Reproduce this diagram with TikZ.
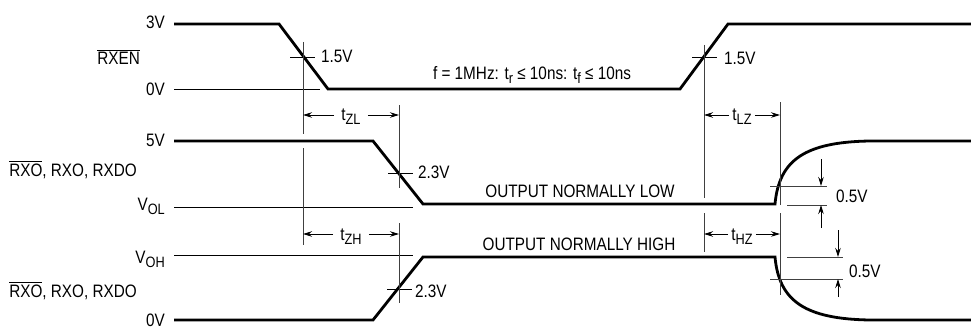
\documentclass[tikz,border=0pt]{standalone}
\usepackage{fontspec}
\setmainfont{Liberation Sans}[FakeStretch=0.85]
\usetikzlibrary{arrows.meta}
\newcommand\sbs[1]{\raisebox{-4pt}{\fontsize{15}{15}\selectfont #1}}
\newcommand\ovl[1]{\vbox{\hrule height 0.9pt\kern1.6pt\hbox{#1}}}
\begin{document}
\begin{tikzpicture}[x=1pt,y=-1pt,
  every node/.style={font=\fontsize{18}{20}\selectfont, inner sep=0pt},
  sig/.style={line width=2.8pt, line join=miter},
  refl/.style={line width=0.9pt},
  vline/.style={line width=0.9pt, black!75},
  arr/.style={line width=0.9pt, -{Stealth[length=9pt,width=5.5pt]}},
]
\useasboundingbox (0,0) rectangle (971,329);
% level labels
\node[anchor=base east] (l3v) at (165,29) {3V};
\node[anchor=base east] (lrxen) at (140,65) {\ovl{RXEN}};
\node[anchor=base east] (l0va) at (165,95) {0V};
\node[anchor=base east] (l5v) at (165,146) {5V};
\node[anchor=base east] (lrxa) at (137,176) {\ovl{RXO}, RXO, RXDO};
\node[anchor=base east] (lvol) at (165,210) {V\sbs{OL}};
\node[anchor=base east] (lvoh) at (165,263) {V\sbs{OH}};
\node[anchor=base east] (lrxb) at (137,297) {\ovl{RXO}, RXO, RXDO};
\node[anchor=base east] (l0vb) at (165,326) {0V};
% thin reference levels
\draw[refl] (174,89) -- (320,89);
\draw[refl] (174,207) -- (413,207);
\draw[refl] (174,255) -- (413,255);
% signals
\draw[sig] (174,24) -- (279,24) -- (328,89) -- (680,89) -- (728,24) -- (971,24);
\draw[sig] (174,141) -- (373,141) -- (423,204) -- (775,204)
  .. controls (779,160) and (805,142) .. (870,141) -- (971,141);
\draw[sig] (174,320) -- (373,320) -- (423,257) -- (775,257)
  .. controls (779,301) and (805,319) .. (870,320) -- (971,320);
% crossing ticks
\draw[refl] (290,57) -- (315,57);
\draw[refl] (692,57) -- (717,57);
\draw[refl] (388,173) -- (413,173);
\draw[refl] (387,289) -- (412,289);
\node[anchor=base west] (v15a) at (321,63) {1.5V};
\node[anchor=base west] (v15b) at (724,64) {1.5V};
\node[anchor=base west] (v23a) at (418,178) {2.3V};
\node[anchor=base west] (v23b) at (415,297) {2.3V};
\node[anchor=base] (freq) at (532,79) {f = 1MHz: t\sbs{r} ≤ 10ns: t\sbs{f} ≤ 10ns};
\node[anchor=base] (onl) at (580,197) {OUTPUT NORMALLY LOW};
\node[anchor=base] (onh) at (579,250) {OUTPUT NORMALLY HIGH};
% vertical timing markers
\coordinate (a1) at (303,42); \coordinate (a2) at (303,134);
\coordinate (a3) at (303,148); \coordinate (a4) at (303,245);
\coordinate (b1) at (399,105); \coordinate (b2) at (399,188);
\coordinate (b3) at (399,223); \coordinate (b4) at (399,303);
\coordinate (c1) at (704,45); \coordinate (c2) at (704,198);
\coordinate (c3) at (704,213); \coordinate (c4) at (704,252);
\coordinate (d1) at (780,102); \coordinate (d2) at (780,205);
\coordinate (d3) at (780,213); \coordinate (d4) at (780,295);
\draw[vline] (a1) -- (a2); \draw[vline] (a3) -- (a4);
\draw[vline] (b1) -- (b2); \draw[vline] (b3) -- (b4);
\draw[vline] (c1) -- (c2); \draw[vline] (c3) -- (c4);
\draw[vline] (d1) -- (d2); \draw[vline] (d3) -- (d4);
% timing labels and arrows
\node[anchor=base, inner xsep=4pt] (tzl) at (351,120) {t\sbs{ZL}};
\node[anchor=base, inner xsep=3pt] (tlz) at (742,120) {t\sbs{LZ}};
\node[anchor=base, inner xsep=4pt] (tzh) at (351,240) {t\sbs{ZH}};
\node[anchor=base, inner xsep=3pt] (thz) at (742,240) {t\sbs{HZ}};
\coordinate (zl1) at (303,115); \coordinate (zl2) at (399,115);
\coordinate (lz1) at (704,115); \coordinate (lz2) at (780,115);
\coordinate (zh1) at (303,234); \coordinate (zh2) at (399,234);
\coordinate (hz1) at (704,234); \coordinate (hz2) at (780,234);
\draw[arr] (tzl.west |- zl1) ++(-3,0) -- (zl1);
\draw[arr] (tzl.east |- zl2) ++(3,0) -- (zl2);
\draw[arr] (tlz.west |- lz1) -- (lz1);
\draw[arr] (tlz.east |- lz2) -- (lz2);
\draw[arr] (tzh.west |- zh1) ++(-3,0) -- (zh1);
\draw[arr] (tzh.east |- zh2) ++(3,0) -- (zh2);
\draw[arr] (thz.west |- hz1) -- (hz1);
\draw[arr] (thz.east |- hz2) -- (hz2);
% 0.5V markers
\draw[vline] (770,186) -- (827,186);
\draw[vline] (787,205) -- (827,205);
\draw[vline] (787,257) -- (843,257);
\draw[vline] (770,279) -- (843,279);
\coordinate (p1) at (821,159); \coordinate (p2) at (821,186);
\coordinate (p3) at (821,228); \coordinate (p4) at (821,205);
\coordinate (q1) at (838,230); \coordinate (q2) at (838,257);
\coordinate (q3) at (838,297); \coordinate (q4) at (838,279);
\draw[arr] (p1) -- (p2); \draw[arr] (p3) -- (p4);
\draw[arr] (q1) -- (q2); \draw[arr] (q3) -- (q4);
\node[anchor=base west] (h05a) at (836,202) {0.5V};
\node[anchor=base west] (h05b) at (849,277) {0.5V};
\end{tikzpicture}
\end{document}
